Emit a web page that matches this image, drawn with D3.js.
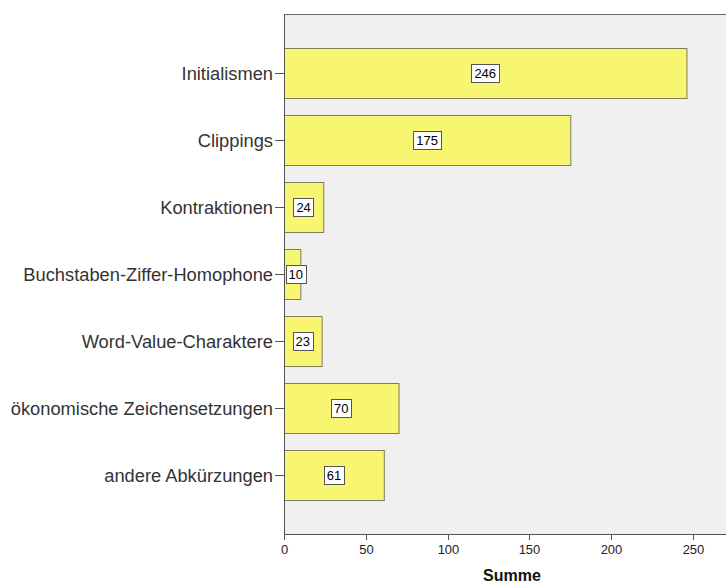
<!DOCTYPE html>
<html><head><meta charset="utf-8">
<script src="https://cdn.jsdelivr.net/npm/d3@7"></script>
<style>body{margin:0;background:#fff}svg{display:block}text{font-family:"Liberation Sans",Arial,sans-serif}</style>
</head><body>
<script>
const categories = ["Initialismen","Clippings","Kontraktionen","Buchstaben-Ziffer-Homophone","Word-Value-Charaktere","ökonomische Zeichensetzungen","andere Abkürzungen"];
const values = [246,175,24,10,23,70,61];
const xTicks = [0,50,100,150,200,250];
const xTitle = "Summe";

(function(){
const W=726,H=584;
const mLeft=284, mTop=14, mBottom=534;
const svg=d3.select("body").append("svg").attr("width",W).attr("height",H);
const x=d3.scaleLinear().domain([0,270]).range([mLeft,mLeft+270*(409/250)]);
const y=d3.scaleBand().domain(categories).range([mTop,mBottom]).paddingInner(0.25).paddingOuter(0.5);

svg.append("rect").attr("x",mLeft+0.5).attr("y",mTop+0.5).attr("width",W-mLeft+5).attr("height",mBottom-mTop)
  .attr("fill","#f0f0f0").attr("stroke","#666").attr("stroke-width",1);

svg.selectAll("rect.bar").data(values).join("rect").attr("class","bar")
  .attr("x",x(0)+0.5).attr("y",(d,i)=>Math.round(y(categories[i]))+0.5)
  .attr("width",d=>x(d)-x(0)).attr("height",Math.round(y.bandwidth()))
  .attr("fill","#f8f571").attr("stroke","#7c7c64").attr("stroke-width",1);

const lab=svg.selectAll("g.lab").data(values).join("g").attr("class","lab");
lab.each(function(d,i){
  const g=d3.select(this);
  const t=g.append("text").text(d).attr("font-size",13).attr("fill","#000").attr("text-anchor","middle");
  const w=t.node().getComputedTextLength()+6;
  let cx=(x(0)+x(d))/2;
  if(cx-w/2<mLeft+1.5) cx=mLeft+1.5+w/2;
  const cy=Math.round(y(categories[i])+y.bandwidth()/2)+0.5;
  g.insert("rect","text").attr("x",Math.round(cx-w/2)+0.5).attr("y",cy-9).attr("width",Math.round(w)).attr("height",18)
    .attr("fill","#fff").attr("stroke","#555").attr("stroke-width",1);
  t.attr("x",cx).attr("y",cy+4.5);
});

const ya=svg.append("g");
ya.append("line").attr("x1",mLeft+0.5).attr("x2",mLeft+0.5).attr("y1",mTop).attr("y2",mBottom).attr("stroke","#555");
categories.forEach(c=>{
  const cy=Math.round(y(c)+y.bandwidth()/2)+0.5;
  ya.append("line").attr("x1",mLeft-9).attr("x2",mLeft).attr("y1",cy).attr("y2",cy).attr("stroke","#555");
  ya.append("text").attr("x",mLeft-11).attr("y",cy+6.5).attr("text-anchor","end").attr("font-size",18.3).attr("fill","#333").text(c);
});

const xa=svg.append("g");
xa.append("line").attr("x1",mLeft).attr("x2",W).attr("y1",mBottom+0.5).attr("y2",mBottom+0.5).attr("stroke","#555");
xTicks.forEach(t=>{
  const px=Math.round(x(t))+0.5;
  xa.append("line").attr("x1",px).attr("x2",px).attr("y1",mBottom).attr("y2",mBottom+6).attr("stroke","#555");
  xa.append("text").attr("x",px).attr("y",mBottom+20).attr("text-anchor","middle").attr("font-size",13).attr("fill","#222").text(t);
});
svg.append("text").attr("x",512).attr("y",581).attr("text-anchor","middle").attr("font-size",16).attr("font-weight","bold").attr("fill","#111").text(xTitle);
})();
</script>
</body></html>
